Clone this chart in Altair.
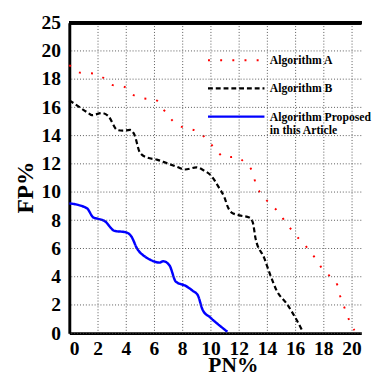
import altair as alt
import pandas as pd

# ---- data ----
a_x = [0, 0.8, 1.7, 2.4, 3.0, 3.9, 4.5, 5.2, 6.1, 6.6, 7.1, 7.6, 8.4, 9.2, 9.8, 10.4, 11.0,
       11.8, 12.5, 13.0, 13.2, 13.6, 14.2, 14.8, 15.3, 15.8, 16.3, 16.9, 17.4, 17.9, 18.5,
       19.0, 19.2, 19.5, 19.8, 20.2]
a_y = [19.0, 18.45, 18.4, 18.1, 17.6, 17.45, 16.9, 16.65, 16.55, 15.95, 15.3, 14.8, 14.5,
       14.25, 13.65, 13.0, 12.45, 12.5, 12.0, 11.4, 10.6, 9.85, 9.2, 8.6, 7.9, 7.25, 6.65,
       6.0, 5.35, 4.6, 4.0, 3.4, 2.6, 1.8, 1.0, 0.2]

b_x = [0, 0.45, 1.35, 1.6, 2.3, 2.75, 3.4, 3.8, 4.3, 4.6, 5.0, 5.5, 6.2, 6.9, 7.6, 8.2, 9.0,
       9.5, 10.1, 10.55, 11.0, 11.25, 11.5, 12.05, 12.75, 13.0, 13.2, 13.8, 14.25, 14.7,
       15.4, 16.1, 16.55]
b_y = [16.5, 16.2, 15.6, 15.45, 15.6, 15.4, 14.4, 14.35, 14.4, 14.1, 12.8, 12.45, 12.3,
       12.05, 11.8, 11.6, 11.75, 11.55, 11.1, 10.4, 9.6, 8.9, 8.55, 8.35, 8.2, 7.85, 6.7,
       5.35, 4.1, 3.0, 2.1, 0.95, 0.1]

c_x = [0, 1.25, 1.7, 2.05, 2.5, 3.2, 4.0, 4.4, 4.8, 5.4, 5.85, 6.4, 6.65, 7.1, 7.55, 8.25,
       8.75, 9.1, 9.45, 10.0, 10.7, 11.2]
c_y = [9.2, 8.85, 8.2, 8.1, 7.95, 7.25, 7.15, 6.85, 6.0, 5.4, 5.15, 5.0, 5.1, 4.8, 3.65,
       3.35, 3.0, 2.7, 1.65, 1.1, 0.5, 0.1]

series_names = ["Algorithm A", "Algorithm B", "Algorithm Proposed in this Article"]
series_colors = ["#ff0000", "#000000", "#0000ff"]
series_dash = [[2, 10.5], [5, 3], [1, 0]]
series_width = [2, 2.5, 3]

x_ticks = list(range(0, 21, 2))
y_ticks = list(range(0, 23, 2))
y_grid = list(range(0, 21, 2))

rows = []
for name, xs, ys in zip(series_names, [a_x, b_x, c_x], [a_y, b_y, c_y]):
    for i, (xv, yv) in enumerate(zip(xs, ys)):
        rows.append({"series": name, "x": xv, "y": yv, "order": i})
df = pd.DataFrame(rows)
grid_df = pd.DataFrame({"g": y_grid})

FONT = "Liberation Serif"
X_SCALE = alt.Scale(domain=[0, 20.69], nice=False, zero=False)
Y_SCALE = alt.Scale(domain=[0, 22], nice=False)

legend = alt.Legend(
    title=None, orient="none", legendX=141, legendY=32,
    symbolType="stroke", symbolSize=3364, padding=0,
    labelFont=FONT, labelFontSize=12, labelFontWeight="bold", labelColor="black",
    labelLimit=300, labelOffset=4, rowPadding=16, clipHeight=13,
    labelExpr="datum.label == 'Algorithm Proposed in this Article' ? ['Algorithm Proposed', 'in this Article'] : datum.label",
)

axis_common = dict(
    labelFont=FONT, labelFontWeight="bold", labelFontSize=20, labelColor="black",
    titleFont=FONT, titleFontWeight="bold", titleColor="black",
    domainColor="black", domainWidth=3, ticks=False, tickSize=0,
    gridColor="#555555", gridDash=[1, 2], gridWidth=1, domain=True,
    labelOverlap=False,
)

X_AXIS = alt.Axis(values=x_ticks, title="PN%", titleFontSize=22, titleX=168,
                  titleY=39, titleBaseline="alphabetic", labelBaseline="top",
                  labelPadding=6, grid=True, **axis_common)
Y_AXIS = alt.Axis(values=y_ticks, labelExpr="datum.value == 22 ? '25' : datum.label",
                  title="FP%", titleFontSize=24, titleX=-38, titleY=169,
                  titleBaseline="alphabetic", titleAlign="center", labelPadding=9,
                  grid=False, **axis_common)

lines = alt.Chart(df).mark_line(interpolate="monotone", strokeCap="butt").encode(
    x=alt.X("x:Q", scale=X_SCALE, axis=X_AXIS),
    y=alt.Y("y:Q", scale=Y_SCALE, axis=Y_AXIS, title="FP%"),
    color=alt.Color("series:N", scale=alt.Scale(domain=series_names, range=series_colors),
                    legend=legend),
    strokeDash=alt.StrokeDash("series:N", scale=alt.Scale(domain=series_names, range=series_dash),
                              legend=legend),
    strokeWidth=alt.StrokeWidth("series:N", scale=alt.Scale(domain=series_names, range=series_width),
                                legend=legend),
    order="order:Q",
)

grid = alt.Chart(grid_df).mark_rule(color="#555555", strokeWidth=1, strokeDash=[1, 2]).encode(
    y=alt.Y("g:Q", scale=Y_SCALE, axis=Y_AXIS, title="FP%")
)

top_line = alt.Chart(grid_df).mark_rule(color="black", strokeWidth=3).encode(
    y=alt.YDatum(22, axis=Y_AXIS, title="FP%")
)

chart = alt.layer(lines, grid, top_line).properties(
    width=300, height=319,
    padding={"left": 6, "top": 0, "right": 0, "bottom": 0},
).configure_view(stroke=None)

chart.save("out.html", embed_options={"renderer": "svg", "actions": False})
